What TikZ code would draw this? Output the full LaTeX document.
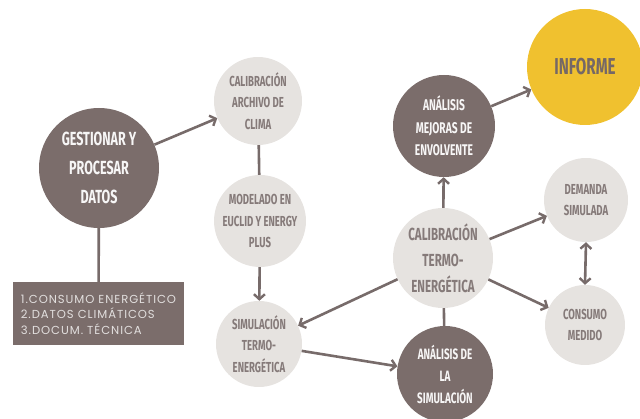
\documentclass[tikz,border=0pt]{standalone}
\usepackage{fontspec}
\setmainfont{Fira Sans}
\newfontfamily\condfont[FakeStretch=0.66]{Fira Sans}
\newfontfamily\listfont[LetterSpace=8]{Poppins}
\usetikzlibrary{arrows.meta}
\definecolor{darkC}{HTML}{7B6D6B}
\definecolor{paleC}{HTML}{E6E3E0}
\definecolor{paleT}{HTML}{857A79}
\definecolor{lineC}{HTML}{776B6A}
\definecolor{goldC}{HTML}{F0C12F}

\begin{document}
\begin{tikzpicture}[
  x=1pt,y=-1pt,
  bubble/.style={circle,inner sep=0pt,align=center,font=\condfont\bfseries\fontsize{14.5}{21.5}\selectfont},
  pale/.style={bubble,fill=paleC,text=paleT},
  dark/.style={bubble,fill=darkC,text=white!94!darkC},
  listbox/.style={rectangle,fill=darkC,text=white!78!darkC,align=left,inner sep=0pt,
    minimum width=171pt,minimum height=63pt,font=\listfont\fontsize{11.6}{15.5}\selectfont},
  barb/.tip={Straight Barb[length=5pt,width=11pt,line width=2.4pt]},
  link/.style={draw=lineC,line width=2.6pt,-barb},
  plain/.style={draw=lineC,line width=2.6pt}
]
  \useasboundingbox (0,0) rectangle (640,419);

  \node[dark,minimum size=120pt,font=\condfont\bfseries\fontsize{19}{29}\selectfont] (gest) at (99,168) {GESTIONAR Y\\PROCESAR\\DATOS};
  \node[listbox] (datos) at (98.5,313.5) {1.CONSUMO ENERGÉTICO\\2.DATOS CLIMÁTICOS\\3.DOCUM. TÉCNICA};

  \node[pale,minimum size=88pt] (clima) at (258,101) {CALIBRACIÓN\\ARCHIVO DE\\CLIMA};
  \node[pale,minimum size=86pt] (modelo) at (260,221) {MODELADO EN\\EUCLID Y ENERGY\\PLUS};
  \node[pale,minimum size=86pt] (sim) at (259,344) {SIMULACIÓN\\TERMO-\\ENERGÉTICA};

  \node[pale,minimum size=100pt,font=\condfont\bfseries\fontsize{17.5}{26}\selectfont] (calib) at (443,258) {CALIBRACIÓN\\TERMO-\\ENERGÉTICA};
  \node[dark,minimum size=96pt,font=\condfont\bfseries\fontsize{15}{22}\selectfont] (anasim) at (445,374) {ANÁLISIS DE\\LA\\SIMULACIÓN};
  \node[dark,minimum size=102pt,font=\condfont\bfseries\fontsize{15.5}{22.5}\selectfont] (mejoras) at (444,126) {ANÁLISIS\\MEJORAS DE\\ENVOLVENTE};
  \node[bubble,fill=goldC,text=darkC!95!black,minimum size=116pt,font=\condfont\bfseries\fontsize{23}{28}\selectfont] (informe) at (585,67) {INFORME};

  \node[pale,minimum size=84pt] (demanda) at (586,200) {DEMANDA\\SIMULADA};
  \node[pale,minimum size=80pt] (consumo) at (585,325) {CONSUMO\\MEDIDO};

  \draw[plain] (gest) -- (datos);
  \draw[link] (gest) -- (clima);
  \draw[plain] (clima) -- (modelo);
  \draw[link] (modelo) -- (sim);
  \draw[link] (calib) -- (sim);
  \draw[link] (sim) -- (anasim);
  \draw[plain] (calib) -- (anasim);
  \draw[link] (calib) -- (mejoras);
  \draw[link] (mejoras) -- (informe);
  \draw[link] (calib) -- (demanda);
  \draw[link] (calib) -- (consumo);
  \draw[link,barb-barb] (demanda.south) -- (consumo.north);
\end{tikzpicture}
\end{document}
